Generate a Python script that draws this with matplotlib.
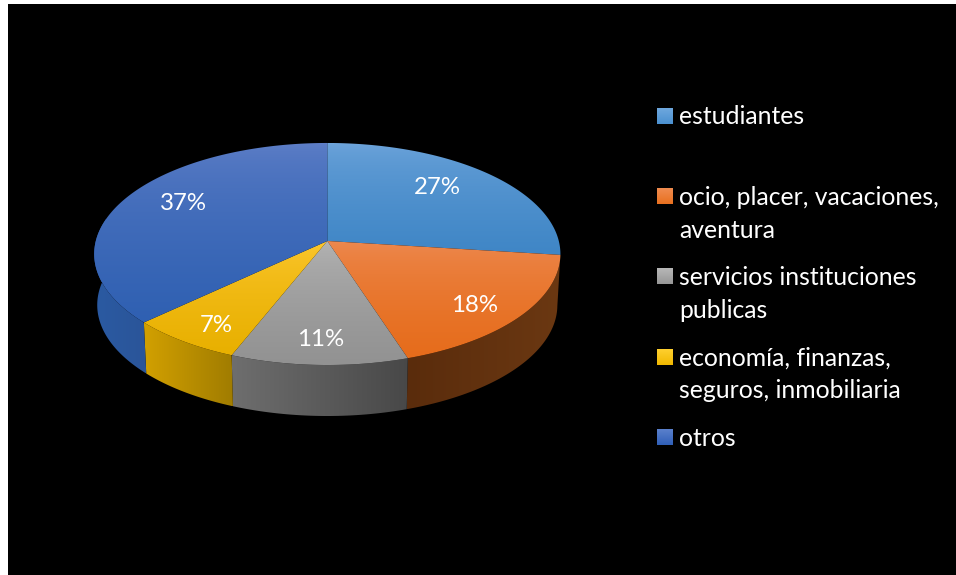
import numpy as np
import matplotlib
matplotlib.use("Agg")
import matplotlib.pyplot as plt
from matplotlib.patches import Polygon, Rectangle
from matplotlib.colors import to_rgb

categories = ["estudiantes", "ocio, placer, vacaciones,\naventura",
              "servicios instituciones\npublicas",
              "economía, finanzas,\nseguros, inmobiliaria", "otros"]
values = [27, 18, 11, 7, 37]

top_light = ["#70a6dc", "#ee8c55", "#b8b8b8", "#ffca35", "#6080c8"]
top_dark = ["#3f86c6", "#e66c1b", "#929292", "#e8b000", "#2f60b2"]
side_left = ["#2e75b6", "#5a2c0c", "#6e6e6e", "#d2a000", "#2a5aa2"]
side_right = ["#2e75b6", "#6b3812", "#484848", "#a07c00", "#2b5599"]
legend_light = ["#6fa8de", "#f08c50", "#b8b8b8", "#ffd030", "#5b80cc"]
legend_dark = ["#4a90d0", "#e8701f", "#969696", "#f0b800", "#3060b8"]

label_pos = [(437, 188), (475, 305), (321, 339), (216, 325), (183, 203)]
legend_y = [108, 188, 268, 349, 429]
legend_base = [[124], [205, 238], [285, 318], [366, 398], [446]]

FONT = "Lato"
W, H = 956, 575
fig = plt.figure(figsize=(W / 100, H / 100), dpi=100, facecolor="white")
ax = fig.add_axes([0, 0, 1, 1])
ax.set_xlim(0, W)
ax.set_ylim(H, 0)
ax.axis("off")
ax.add_patch(Rectangle((8, 4), W - 8, H - 4, fc="black", ec="none", zorder=0))

CX, CY, RX, RY, K = 327.3, 241.0, 231.5, 109.5, 0.117
DEPTH, SHRINK = 51.0, 0.987


def project(theta):
    u, v = np.sin(theta), np.cos(theta)
    w = 1 + K * v
    return CX + RX * u / w, CY - RY * v / w


def gradient(poly_xy, c0, c1, horizontal, z, gamma=1.0):
    x0, y0 = poly_xy.min(axis=0)
    x1, y1 = poly_xy.max(axis=0)
    t = (np.linspace(0, 1, 128) ** gamma)[:, None]
    img = (1 - t) * np.array(to_rgb(c0)) + t * np.array(to_rgb(c1))
    img = img[None, :, :] if horizontal else img[:, None, :]
    im = ax.imshow(img, extent=(x0, x1, y1, y0), aspect="auto", zorder=z,
                   interpolation="bilinear")
    clip = Polygon(poly_xy, closed=True, transform=ax.transData, fc="none", ec="none")
    ax.add_patch(clip)
    im.set_clip_path(clip)


edges = np.concatenate([[0], np.cumsum(values)]) / np.sum(values) * 2 * np.pi
side_start = edges[1]
side_end = np.deg2rad(282)

for i in range(len(values)):
    a0, a1 = max(edges[i], side_start), min(edges[i + 1], side_end)
    if a1 <= a0:
        continue
    th = np.linspace(a0, a1, 200)
    x, y = project(th)
    xb = CX + (x - CX) * SHRINK
    yb = y + DEPTH
    poly = np.column_stack([np.r_[x, xb[::-1]], np.r_[y, yb[::-1]]])
    gradient(poly, side_left[i], side_right[i], True, 2 + i * 0.01)

for i in range(len(values)):
    th = np.linspace(edges[i], edges[i + 1], 300)
    x, y = project(th)
    poly = np.column_stack([np.r_[CX, x], np.r_[CY, y]])
    gradient(poly, top_light[i], top_dark[i], False, 3 + i * 0.01, gamma=0.55)

for v, (lx, ly) in zip(values, label_pos):
    ax.text(lx, ly, f"{v}%", color="white", fontsize=17.3, family=FONT,
            ha="center", va="center", zorder=5)

for i, cat in enumerate(categories):
    sq = np.array([[657, legend_y[i]], [673, legend_y[i]],
                   [673, legend_y[i] + 16], [657, legend_y[i] + 16]], float)
    gradient(sq, legend_light[i], legend_dark[i], False, 4)
    for line, base in zip(cat.split("\n"), legend_base[i]):
        ax.text(679, base, line, color="white", fontsize=17.8, family=FONT,
                ha="left", va="baseline", zorder=5)

ax.set_xlim(0, W)
ax.set_ylim(H, 0)
fig.savefig("out.png", dpi=100, facecolor="white")
